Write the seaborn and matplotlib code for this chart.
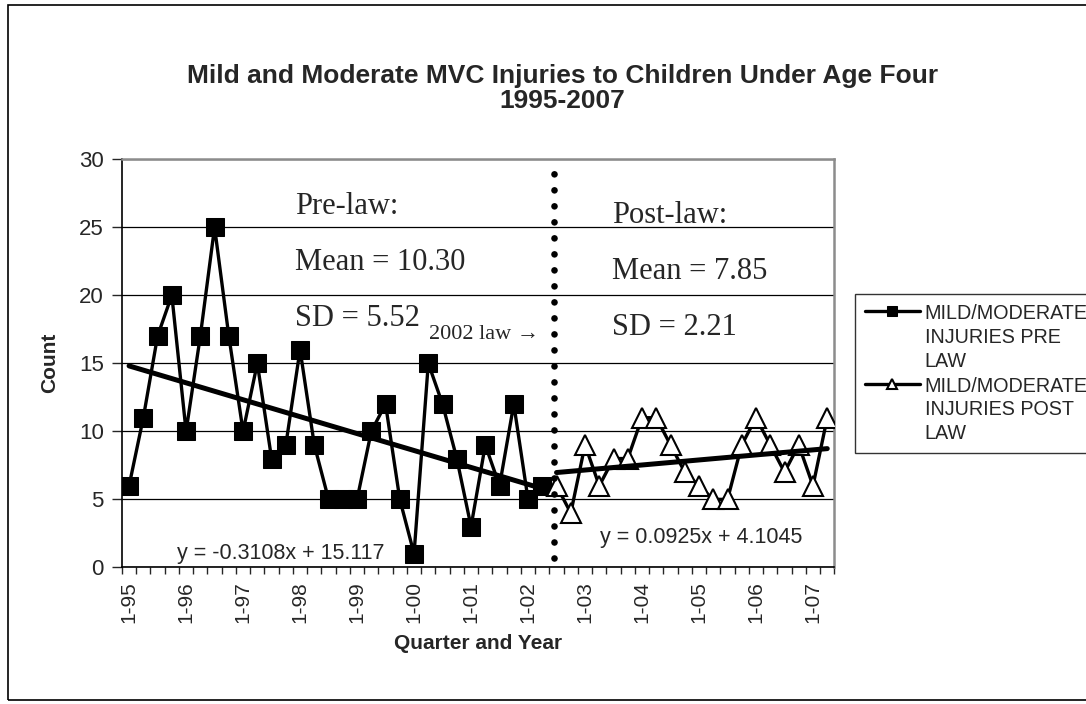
import matplotlib
matplotlib.use("Agg")
import matplotlib.pyplot as plt
from matplotlib.patches import Rectangle
import pandas as pd
import seaborn as sns

# Quarterly counts, quarter index 1 = 1995 Q1 ... 50 = 2007 Q2
pre_quarter = list(range(1, 31))
pre_count = [6, 11, 17, 20, 10, 17, 25, 17, 10, 15, 8, 9, 16, 9, 5,
             5, 5, 10, 12, 5, 1, 15, 12, 8, 3, 9, 6, 12, 5, 6]
post_quarter = list(range(31, 51))
post_count = [6, 4, 9, 6, 8, 8, 11, 11, 9, 7, 6, 5, 5, 9, 11, 9, 7, 9, 6, 11]

year_label_pos = [1, 5, 9, 13, 17, 21, 25, 29, 33, 37, 41, 45, 49]
year_labels = ["1-95", "1-96", "1-97", "1-98", "1-99", "1-00", "1-01",
               "1-02", "1-03", "1-04", "1-05", "1-06", "1-07"]

pre_label = "MILD/MODERATE\nINJURIES PRE\nLAW"
post_label = "MILD/MODERATE\nINJURIES POST\nLAW"
LAW_X = 30.8

pre_df = pd.DataFrame({"quarter": pre_quarter, "count": pre_count})
post_df = pd.DataFrame({"quarter": post_quarter, "count": post_count})

sns.set_style("white")
plt.rcParams["font.family"] = ["Liberation Sans", "DejaVu Sans"]

fig = plt.figure(figsize=(10.86, 7.04), dpi=100)
ax = fig.add_axes([0.1123, 0.194, 0.656, 0.580])

# data series
sns.lineplot(data=pre_df, x="quarter", y="count", ax=ax, color="black",
             lw=2.4, marker="s", markersize=13.5, markerfacecolor="black",
             markeredgecolor="black", label=pre_label, zorder=3)
sns.lineplot(data=post_df, x="quarter", y="count", ax=ax, color="black",
             lw=2.4, marker="^", markersize=14, markerfacecolor="white",
             markeredgecolor="black", markeredgewidth=1.5, label=post_label,
             zorder=3)

# linear trend lines
sns.regplot(data=pre_df, x="quarter", y="count", ax=ax, scatter=False,
            ci=None, truncate=True, line_kws={"color": "black", "lw": 3.6, "zorder": 4})
sns.regplot(data=post_df, x="quarter", y="count", ax=ax, scatter=False,
            ci=None, truncate=True, line_kws={"color": "black", "lw": 3.6, "zorder": 4})

# law marker
ax.plot([LAW_X, LAW_X], [0.7, 29.1], color="black", lw=4.8,
        ls=(0, (0.001, 2.4)), dash_capstyle="round", zorder=5)

ax.set_xlim(0.5, 50.5)
ax.set_ylim(0, 30)
ax.set_yticks([0, 5, 10, 15, 20, 25, 30])
ax.set_xticks(year_label_pos)
ax.set_xticklabels(year_labels, rotation=90)
ax.set_xticks([q + 0.5 for q in range(0, 51)], minor=True)
ax.tick_params(axis="x", which="major", length=0, pad=10, labelsize=15)
ax.tick_params(axis="x", which="minor", length=5, width=1, direction="out", bottom=True)
ax.tick_params(axis="y", length=7, width=1, direction="out", left=True, labelsize=16, pad=6)
ax.yaxis.grid(True, color="black", lw=0.9)
ax.set_axisbelow(True)

for side in ["left", "bottom"]:
    ax.spines[side].set_color("black")
    ax.spines[side].set_linewidth(1.2)
for side in ["top", "right"]:
    ax.spines[side].set_color("#8c8c8c")
    ax.spines[side].set_linewidth(1.8)

ax.set_xlabel("Quarter and Year", fontsize=15, fontweight="bold", labelpad=8)
ax.set_ylabel("Count", fontsize=15, fontweight="bold", labelpad=14)

# annotations
serif = ["Liberation Serif", "DejaVu Serif"]
ax.text(12.65, 25.96, "Pre-law:", family=serif, fontsize=22, va="baseline")
ax.text(12.65, 21.84, "Mean = 10.30", family=serif, fontsize=22, va="baseline")
ax.text(12.65, 17.73, "SD = 5.52", family=serif, fontsize=22, va="baseline")
ax.text(22.06, 16.78, "2002 law \u2192", family=serif, fontsize=16, va="baseline")
ax.text(34.9, 25.3, "Post-law:", family=serif, fontsize=22, va="baseline")
ax.text(34.9, 21.2, "Mean = 7.85", family=serif, fontsize=22, va="baseline")
ax.text(34.9, 17.07, "SD = 2.21", family=serif, fontsize=22, va="baseline")
ax.text(4.36, 0.62, "y = -0.3108x + 15.117", fontsize=15.5, va="baseline")
ax.text(34.07, 1.8, "y = 0.0925x + 4.1045", fontsize=15.5, va="baseline")

fig.text(0.518, 0.874, "Mild and Moderate MVC Injuries to Children Under Age Four\n1995-2007",
         ha="center", va="center", fontsize=19, fontweight="bold", linespacing=1.08)

leg = ax.legend(loc="upper left", bbox_to_anchor=(0.787, 0.582),
                bbox_transform=fig.transFigure, fontsize=14.2, frameon=True,
                fancybox=False, edgecolor="black", handlelength=2.8,
                handletextpad=0.25, markerscale=0.5, borderpad=0.5,
                labelspacing=0.3, borderaxespad=0)
leg.get_frame().set_linewidth(1.0)
for t in leg.get_texts():
    t.set_linespacing(1.32)
# put each legend handle level with the first line of its label
for column in leg._legend_handle_box.get_children():
    for item in column.get_children():
        item.align = "top"

# chart area border
fig.patches.append(Rectangle((0.0074, 0.006), 1.2, 0.987, transform=fig.transFigure,
                             fill=False, edgecolor="black", lw=1.2))

fig.savefig("out.png", dpi=100, facecolor="white")
